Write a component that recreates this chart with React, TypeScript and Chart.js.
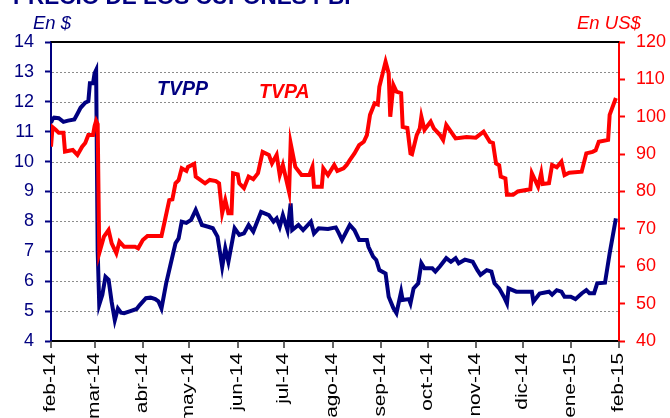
import React, { useEffect, useRef } from "react";
import { Chart, registerables } from "chart.js";

Chart.register(...registerables);

// x values are days since 1-feb-2014
const monthLabels = ["feb-14", "mar-14", "abr-14", "may-14", "jun-14", "jul-14", "ago-14", "sep-14", "oct-14", "nov-14", "dic-14", "ene-15", "feb-15"];
const monthStartDays = [0, 28, 59, 89, 120, 150, 181, 212, 242, 273, 303, 334, 365];
const leftGridValues = [5, 6, 7, 8, 9, 10, 11, 12, 13];

const tvppDays = [0, 1, 2, 5, 8, 11, 15, 17, 19, 22, 24, 25, 27, 28, 29, 30, 31, 33, 35, 37, 39, 41, 43, 45, 47, 51, 55, 57, 61, 64, 67, 69, 71, 74, 77, 80, 82, 84, 87, 90, 93, 97, 101, 104, 107, 110, 112, 114, 118, 121, 124, 127, 130, 135, 140, 143, 145, 147, 149, 152, 154, 155, 159, 162, 167, 169, 172, 178, 183, 185, 187, 192, 195, 198, 203, 204, 207, 209, 211, 215, 217, 220, 222, 225, 226, 230, 231, 233, 236, 238, 240, 245, 247, 250, 254, 257, 260, 262, 266, 271, 274, 276, 280, 283, 285, 288, 291, 293, 294, 299, 309, 310, 314, 320, 322, 325, 328, 330, 334, 337, 341, 344, 346, 349, 351, 356, 359, 363];
const tvppValues = [11.3, 11.42, 11.47, 11.45, 11.33, 11.37, 11.41, 11.6, 11.8, 11.97, 12.02, 12.62, 12.62, 12.95, 13.06, 7.0, 5.22, 5.55, 6.15, 6.05, 5.3, 4.7, 5.09, 4.95, 4.93, 5.0, 5.07, 5.2, 5.43, 5.45, 5.4, 5.33, 5.09, 5.93, 6.6, 7.27, 7.43, 7.99, 7.95, 8.05, 8.38, 7.88, 7.82, 7.77, 7.49, 6.48, 7.1, 6.65, 7.77, 7.55, 7.6, 7.88, 7.66, 8.32, 8.21, 7.99, 8.1, 7.82, 8.21, 7.71, 8.6, 7.71, 7.88, 7.71, 7.99, 7.6, 7.77, 7.75, 7.8, 7.6, 7.38, 7.88, 7.71, 7.38, 7.38, 7.15, 6.82, 6.71, 6.37, 6.26, 5.48, 5.1, 4.93, 5.65, 5.37, 5.4, 5.26, 5.76, 5.93, 6.6, 6.43, 6.43, 6.32, 6.5, 6.77, 6.65, 6.77, 6.6, 6.72, 6.65, 6.37, 6.21, 6.37, 6.32, 5.93, 5.76, 5.48, 5.26, 5.76, 5.65, 5.65, 5.32, 5.59, 5.65, 5.55, 5.7, 5.65, 5.48, 5.48, 5.4, 5.59, 5.7, 5.6, 5.6, 5.93, 5.95, 6.93, 8.1];

const tvpaDays = [0, 1, 3, 5, 8, 9, 14, 17, 20, 22, 24, 27, 28, 29, 30, 31, 34, 37, 39, 42, 44, 47, 54, 56, 59, 62, 71, 73, 76, 78, 80, 82, 84, 87, 88, 92, 93, 99, 102, 106, 108, 110, 112, 114, 116, 117, 120, 121, 124, 127, 130, 133, 136, 140, 142, 145, 147, 149, 153, 154, 157, 161, 166, 168, 169, 174, 175, 178, 182, 184, 188, 190, 192, 195, 198, 201, 203, 205, 208, 210, 211, 215, 217, 218, 220, 222, 225, 226, 229, 231, 232, 235, 237, 238, 240, 244, 246, 250, 252, 254, 257, 260, 267, 273, 278, 282, 284, 286, 288, 289, 292, 293, 297, 300, 308, 309, 313, 315, 316, 320, 322, 325, 328, 330, 333, 341, 344, 348, 350, 352, 358, 359, 363];
const tvpaValues = [92.0, 97.2, 96.5, 95.7, 95.7, 90.7, 91.1, 89.8, 92.0, 93.0, 95.1, 95.1, 97.5, 98.9, 98.0, 63.5, 67.9, 69.7, 66.1, 63.5, 66.6, 65.2, 65.2, 64.8, 67.0, 68.1, 68.1, 71.9, 77.7, 77.9, 82.2, 83.0, 86.2, 85.5, 86.6, 87.4, 84.0, 82.2, 83.1, 82.8, 82.2, 74.2, 77.7, 74.2, 74.2, 84.9, 84.6, 82.2, 80.9, 84.0, 83.3, 84.9, 90.6, 89.8, 87.5, 89.8, 84.4, 87.1, 79.9, 92.9, 86.6, 84.4, 84.4, 86.6, 81.3, 81.3, 86.2, 84.4, 87.1, 85.5, 86.2, 87.1, 88.4, 90.2, 92.4, 93.3, 95.1, 100.5, 103.6, 103.3, 108.0, 114.7, 111.6, 100.0, 108.5, 106.7, 106.3, 97.3, 97.0, 90.2, 90.0, 95.1, 96.9, 100.0, 96.5, 98.7, 96.9, 95.1, 93.8, 97.8, 96.0, 94.2, 94.6, 94.4, 96.0, 93.3, 93.0, 87.5, 87.0, 84.0, 83.5, 79.1, 79.1, 80.0, 80.6, 84.9, 81.3, 84.9, 82.0, 82.2, 87.1, 86.5, 88.0, 84.4, 85.0, 85.3, 90.2, 90.6, 91.0, 93.3, 93.8, 100.5, 105.0];

const NAVY = "#000080";
const RED = "#FF0000";
const FONT = "'Liberation Sans', Arial, sans-serif";

const gridPlugin = {
  id: "dottedGrid",
  beforeDatasetsDraw(chart: any) {
    const { ctx, chartArea: ca, scales } = chart;
    ctx.save();
    ctx.strokeStyle = "#8c8c8c";
    ctx.lineWidth = 1;
    ctx.setLineDash([2, 2]);
    leftGridValues.forEach((v) => {
      const py = Math.round(scales.y.getPixelForValue(v)) + 0.5;
      ctx.beginPath();
      ctx.moveTo(ca.left + 1, py);
      ctx.lineTo(ca.right - 1, py);
      ctx.stroke();
    });
    ctx.restore();
  },
};

const overlayPlugin = {
  id: "overlay",
  afterDraw(chart: any) {
    const { ctx, chartArea: ca, scales } = chart;
    ctx.save();
    // top border
    ctx.strokeStyle = "#000";
    ctx.lineWidth = 2;
    ctx.beginPath();
    ctx.moveTo(ca.left, ca.top);
    ctx.lineTo(ca.right, ca.top);
    ctx.stroke();

    // x tick marks & rotated labels
    const xs = scales.x;
    monthStartDays.forEach((d, i) => {
      const px = Math.round(xs.getPixelForValue(d));
      ctx.strokeStyle = "#333";
      ctx.lineWidth = 1.5;
      ctx.beginPath();
      ctx.moveTo(px, ca.bottom);
      ctx.lineTo(px, ca.bottom + 7);
      ctx.stroke();
      ctx.save();
      ctx.translate(px, ca.bottom + 12);
      ctx.rotate(-Math.PI / 2);
      ctx.scale(1.3, 1);
      ctx.font = `16px ${FONT}`;
      ctx.fillStyle = "#000";
      ctx.textAlign = "right";
      ctx.textBaseline = "middle";
      ctx.fillText(monthLabels[i], 0, 0);
      ctx.restore();
    });

    ctx.textAlign = "left";
    ctx.textBaseline = "alphabetic";
    // title (partially cut off at top)
    ctx.fillStyle = NAVY;
    ctx.font = `bold 22.5px ${FONT}`;
    ctx.fillText("PRECIO DE LOS CUPONES PBI", 13, 4);
    // axis units
    ctx.font = `italic 18.5px ${FONT}`;
    ctx.fillStyle = NAVY;
    ctx.fillText("En $", 33, 29);
    ctx.fillStyle = RED;
    ctx.fillText("En US$", 577, 29);
    // series labels
    ctx.font = `italic bold 19.5px ${FONT}`;
    ctx.fillStyle = NAVY;
    ctx.fillText("TVPP", 157, 95);
    ctx.fillStyle = RED;
    ctx.fillText("TVPA", 259, 98);
    ctx.restore();
  },
};

export default function App() {
  const ref = useRef<HTMLCanvasElement | null>(null);

  useEffect(() => {
    if (!ref.current) return;
    const chart = new Chart(ref.current, {
      type: "line",
      data: {
        datasets: [
          {
            label: "TVPA",
            data: tvpaDays.map((d, i) => ({ x: d, y: tvpaValues[i] })),
            borderColor: RED,
            backgroundColor: RED,
            borderWidth: 4,
            pointRadius: 0,
            tension: 0,
            yAxisID: "y2",
          },
          {
            label: "TVPP",
            data: tvppDays.map((d, i) => ({ x: d, y: tvppValues[i] })),
            borderColor: NAVY,
            backgroundColor: NAVY,
            borderWidth: 4,
            pointRadius: 0,
            tension: 0,
            yAxisID: "y",
          },
        ],
      },
      options: {
        responsive: false,
        animation: false,
        devicePixelRatio: 1,
        layout: { padding: { top: 42, left: 0, right: 0, bottom: 0 } },
        plugins: { legend: { display: false }, tooltip: { enabled: false }, title: { display: false } },
        scales: {
          x: {
            type: "linear",
            min: 0,
            max: 365,
            ticks: { display: false },
            grid: { display: false },
            border: { display: true, color: "#000", width: 2 },
            afterFit: (s: any) => { s.height = 77; },
          },
          y: {
            position: "left",
            min: 4,
            max: 14,
            ticks: { stepSize: 1, color: NAVY, font: { size: 18, family: FONT }, padding: 11 },
            grid: { drawOnChartArea: false, tickLength: 6, tickColor: NAVY, tickWidth: 2 },
            border: { display: true, color: NAVY, width: 2 },
            afterFit: (s: any) => { s.width = 51; },
          },
          y2: {
            position: "right",
            min: 40,
            max: 120,
            ticks: { stepSize: 10, color: RED, font: { size: 18, family: FONT }, padding: 11 },
            grid: { drawOnChartArea: false, tickLength: 6, tickColor: RED, tickWidth: 2 },
            border: { display: true, color: RED, width: 2 },
            afterFit: (s: any) => { s.width = 51; },
          },
        },
      },
      plugins: [gridPlugin, overlayPlugin],
    });
    return () => chart.destroy();
  }, []);

  return (
    <div style={{ position: "fixed", left: 0, top: 0, width: 670, height: 418, background: "#fff" }}>
      <canvas ref={ref} width={670} height={418} />
    </div>
  );
}
